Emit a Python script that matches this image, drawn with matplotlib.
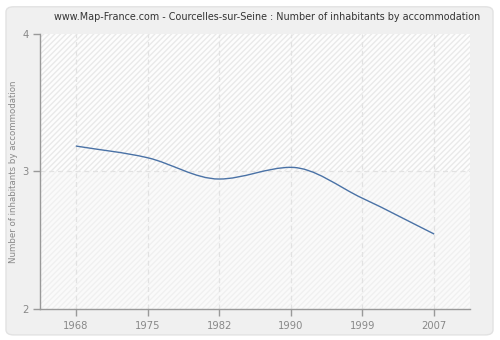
import matplotlib
matplotlib.use("Agg")
import matplotlib.pyplot as plt
from matplotlib.path import Path
from matplotlib.patches import PathPatch, FancyBboxPatch

years = ["1968", "1975", "1982", "1990", "1999", "2007"]
values = [3.185, 3.10, 2.945, 3.03, 2.805, 2.545]
yticks = [2, 3, 4]
title = "www.Map-France.com - Courcelles-sur-Seine : Number of inhabitants by accommodation"
ylabel = "Number of inhabitants by accommodation"

fig = plt.figure(figsize=(5, 3.4), dpi=100)
fig.patch.set_facecolor("white")
panel = FancyBboxPatch((0.012, 0.015), 0.974, 0.965, boxstyle="round,pad=0,rounding_size=0.015",
                       transform=fig.transFigure, facecolor="#f0f0f0", edgecolor="#e2e2e2",
                       linewidth=1.0, zorder=-10)
fig.patches.append(panel)

ax = fig.add_axes([0.08, 0.0912, 0.86, 0.809])
ax.set_facecolor("white")
ax.set_xlim(-0.5, len(years) - 0.5)
ax.set_ylim(2, 4)

ax.axhspan(3, 4, facecolor="#fdfdfd", edgecolor="#e9e9e9", hatch="//////", linewidth=0, zorder=0)
ax.axhspan(2, 3, facecolor="#fafafa", edgecolor="#f0f0f0", hatch="//////", linewidth=0, zorder=0)

xs = list(range(len(years)))
for x in xs:
    ax.axvline(x, color="#e2e2e2", linestyle=(0, (4, 3)), linewidth=0.9, zorder=1)
ax.axhline(3, color="#e2e2e2", linestyle=(0, (4, 3)), linewidth=0.9, zorder=1)

# smooth monotone cubic curve through points drawn as Bezier path
n = len(xs)
d = [(values[i + 1] - values[i]) / (xs[i + 1] - xs[i]) for i in range(n - 1)]
m = [0.0] * n
m[0] = d[0]
m[-1] = d[-1]
for i in range(1, n - 1):
    if d[i - 1] * d[i] <= 0:
        m[i] = 0.0
    else:
        m[i] = (d[i - 1] + d[i]) / 2
verts = [(xs[0], values[0])]
codes = [Path.MOVETO]
for i in range(n - 1):
    h = xs[i + 1] - xs[i]
    verts += [(xs[i] + h / 3, values[i] + m[i] * h / 3),
              (xs[i + 1] - h / 3, values[i + 1] - m[i + 1] * h / 3),
              (xs[i + 1], values[i + 1])]
    codes += [Path.CURVE4] * 3
ax.add_patch(PathPatch(Path(verts, codes), facecolor="none", edgecolor="#4a72a6",
                       linewidth=1.0, zorder=3))

ax.set_xticks(xs)
ax.set_xticklabels(years)
ax.set_yticks(yticks)
ax.set_yticklabels([str(t) for t in yticks])
for s in ["top", "right"]:
    ax.spines[s].set_visible(False)
for s in ["left", "bottom"]:
    ax.spines[s].set_color("#999999")
    ax.spines[s].set_linewidth(1.0)
ax.tick_params(axis="both", colors="#999999", labelcolor="#888888", labelsize=7.2,
               length=5, width=1.0, direction="out")
ax.tick_params(axis="x", pad=4)
ax.tick_params(axis="y", pad=3)

fig.text(0.534, 0.95, title, ha="center", va="center", fontsize=6.9, color="#333333")
fig.text(0.027, 0.4956, ylabel, ha="center", va="center", rotation=90, fontsize=6.2, color="#888888")

fig.savefig("out.png", dpi=100, facecolor=fig.get_facecolor())
